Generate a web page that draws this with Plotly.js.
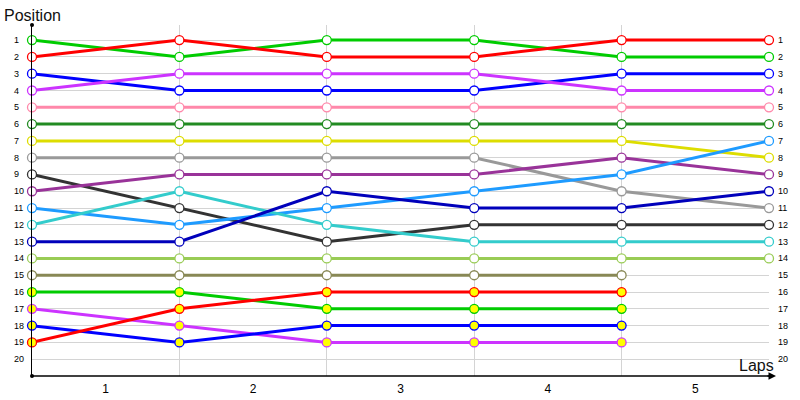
<!DOCTYPE html>
<html>
<head>
<meta charset="utf-8">
<script src="https://cdn.plot.ly/plotly-3.0.1.min.js"></script>
<style>html,body{margin:0;padding:0;background:#fff;}#chart{width:800px;height:400px;}</style>
</head>
<body>
<div id="chart"></div>
<script>
// ---- data ----
const laps = [0, 1, 2, 3, 4, 5];
const lapLabels = ['1', '2', '3', '4', '5'];
const lapLabelPos = [0.5, 1.5, 2.5, 3.5, 4.5];
const positions = [1,2,3,4,5,6,7,8,9,10,11,12,13,14,15,16,17,18,19,20];

const driver01 = [1, 2, 1, 1, 2, 2];
const driver02 = [2, 1, 2, 2, 1, 1];
const driver03 = [3, 4, 4, 4, 3, 3];
const driver04 = [4, 3, 3, 3, 4, 4];
const driver05 = [5, 5, 5, 5, 5, 5];
const driver06 = [6, 6, 6, 6, 6, 6];
const driver07 = [7, 7, 7, 7, 7, 8];
const driver08 = [8, 8, 8, 8, 10, 11];
const driver09 = [9, 11, 13, 12, 12, 12];
const driver10 = [10, 9, 9, 9, 8, 9];
const driver11 = [11, 12, 11, 10, 9, 7];
const driver12 = [12, 10, 12, 13, 13, 13];
const driver13 = [13, 13, 10, 11, 11, 10];
const driver14 = [14, 14, 14, 14, 14, 14];
const driver15 = [15, 15, 15, 15, 15];
const driver16 = [16, 16, 17, 17, 17];
const driver17 = [17, 18, 19, 19, 19];
const driver18 = [18, 19, 18, 18, 18];
const driver19 = [19, 17, 16, 16, 16];

// ---- styles ----
const series = [
  {y: driver01, color: '#00cc00', fill: '#ffffff'},
  {y: driver02, color: '#ff0000', fill: '#ffffff'},
  {y: driver03, color: '#0000ff', fill: '#ffffff'},
  {y: driver04, color: '#cc33ff', fill: '#ffffff'},
  {y: driver05, color: '#ff88aa', fill: '#ffffff'},
  {y: driver06, color: '#228b22', fill: '#ffffff'},
  {y: driver07, color: '#dddd00', fill: '#ffffff'},
  {y: driver08, color: '#999999', fill: '#ffffff'},
  {y: driver09, color: '#333333', fill: '#ffffff'},
  {y: driver10, color: '#993399', fill: '#ffffff'},
  {y: driver11, color: '#1e9bff', fill: '#ffffff'},
  {y: driver12, color: '#33cccc', fill: '#ffffff'},
  {y: driver13, color: '#0000bb', fill: '#ffffff'},
  {y: driver14, color: '#99cc55', fill: '#ffffff'},
  {y: driver15, color: '#888855', fill: '#ffffff'},
  {y: driver16, color: '#00cc00', fill: '#ffff00'},
  {y: driver17, color: '#cc33ff', fill: '#ffff00'},
  {y: driver18, color: '#0000ff', fill: '#ffff00'},
  {y: driver19, color: '#ff0000', fill: '#ffff00'}
];

const traces = series.map(s => ({
  type: 'scatter',
  mode: 'lines+markers',
  x: laps.slice(0, s.y.length),
  y: s.y,
  cliponaxis: false,
  line: {color: s.color, width: 3},
  marker: {symbol: 'circle', size: 9, color: s.fill, line: {color: s.color, width: 1.3}},
  hoverinfo: 'skip',
  showlegend: false
}));

const tickFont = {family: 'Liberation Sans, Arial, sans-serif', size: 9, color: '#000'};
const annotations = [];
positions.forEach(p => {
  annotations.push({xref: 'paper', yref: 'y', x: -0.0275, y: p, text: String(p), showarrow: false, xanchor: 'left', yanchor: 'middle', font: tickFont});
  annotations.push({xref: 'paper', yref: 'y', x: 1.0095, y: p, text: String(p), showarrow: false, xanchor: 'left', yanchor: 'middle', font: tickFont});
});
annotations.push({xref: 'paper', yref: 'paper', x: -0.041, y: 1.058, xanchor: 'left', yanchor: 'top', text: 'Position', showarrow: false, font: {family: 'Liberation Sans, Arial, sans-serif', size: 16, color: '#111'}});
annotations.push({xref: 'paper', yref: 'paper', x: 1.009, y: 0.0, xanchor: 'right', yanchor: 'bottom', text: 'Laps', showarrow: false, font: {family: 'Liberation Sans, Arial, sans-serif', size: 16, color: '#111'}});
// arrowhead on x axis
annotations.push({xref: 'paper', yref: 'paper', x: 1.0095, y: 0, ax: -10, ay: 0, text: '', showarrow: true, arrowhead: 2, arrowsize: 1, arrowwidth: 1.5, arrowcolor: '#000'});

const layout = {
  width: 800, height: 400,
  margin: {l: 32, r: 31, t: 25, b: 24},
  paper_bgcolor: '#ffffff', plot_bgcolor: '#ffffff',
  showlegend: false,
  xaxis: {
    range: [0, 5], zeroline: false, showline: false,
    tickmode: 'array', tickvals: lapLabelPos, ticktext: lapLabels,
    ticks: '', showgrid: false, ticklabelstandoff: 4,
    minor: {tickmode: 'linear', tick0: 0, dtick: 1, showgrid: true, gridcolor: '#d4d4d4', gridwidth: 1, ticks: ''},
    tickfont: {family: 'Liberation Sans, Arial, sans-serif', size: 12, color: '#000'},
    fixedrange: true
  },
  yaxis: {
    range: [21, 0.1], zeroline: false, showline: true, linecolor: '#000', linewidth: 1.5,
    tickmode: 'array', tickvals: positions, showticklabels: false, ticks: '',
    showgrid: true, gridcolor: '#d4d4d4', gridwidth: 1, fixedrange: true
  },
  shapes: [
    {type: 'line', xref: 'paper', yref: 'paper', x0: 0, x1: 1.006, y0: 0, y1: 0, line: {color: '#000', width: 1.5}},
    {type: 'circle', xref: 'paper', yref: 'paper', xsizemode: 'pixel', ysizemode: 'pixel', xanchor: 0, yanchor: 1, x0: -2, x1: 2, y0: -2, y1: 2, fillcolor: '#000', line: {width: 0}},
    {type: 'circle', xref: 'paper', yref: 'paper', xsizemode: 'pixel', ysizemode: 'pixel', xanchor: 0, yanchor: 0, x0: -2, x1: 2, y0: -2, y1: 2, fillcolor: '#000', line: {width: 0}}
  ],
  annotations: annotations
};

Plotly.newPlot('chart', traces, layout, {displayModeBar: false, staticPlot: true});
</script>
</body>
</html>
